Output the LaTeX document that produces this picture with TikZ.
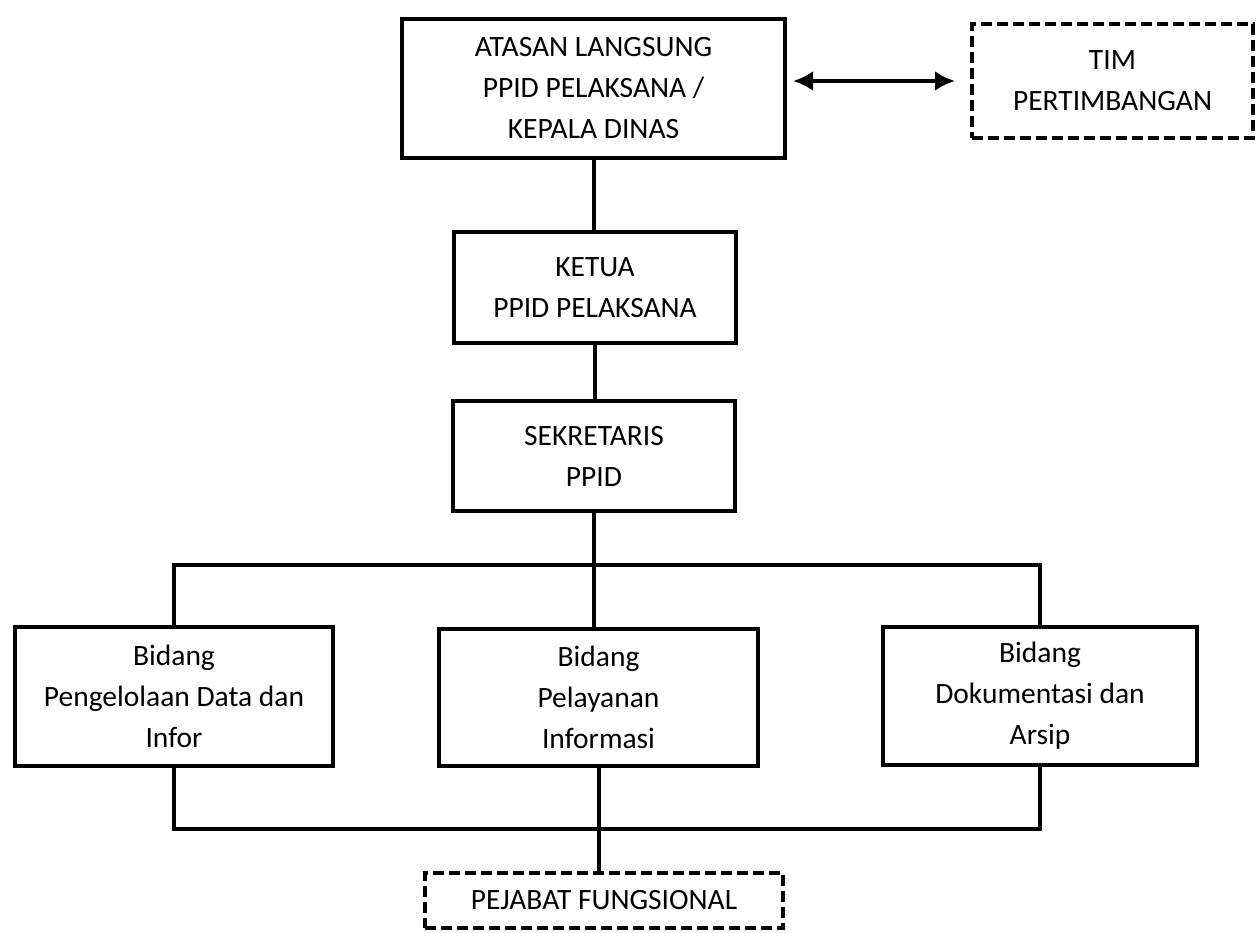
\documentclass[tikz,border=0pt]{standalone}
\usepackage{fontspec}
\setmainfont{Carlito}
\usetikzlibrary{arrows.meta}
\begin{document}
\begin{tikzpicture}[x=1pt,y=-1pt,
  every node/.style={font=\fontsize{29.5}{41}\selectfont, align=center, inner sep=0pt},
  solidbox/.style={draw, line width=4pt, rectangle},
  dashbox/.style={draw, line width=4pt, rectangle, dash pattern=on 11pt off 5pt},
  conn/.style={line width=4pt},
]
\useasboundingbox (0,0) rectangle (1258,932);
\node[solidbox, minimum width=383pt, minimum height=139pt] (top) at (593.5,88.5) {ATASAN LANGSUNG\\PPID PELAKSANA /\\KEPALA DINAS};
\node[dashbox, minimum width=281pt, minimum height=114pt] (tim) at (1112.5,81) {TIM\\PERTIMBANGAN};
\node[solidbox, minimum width=282pt, minimum height=111pt] (ketua) at (595,287.5) {KETUA\\PPID PELAKSANA};
\node[solidbox, minimum width=282pt, minimum height=110pt] (sek) at (594,456) {SEKRETARIS\\PPID};
\node[solidbox, minimum width=318pt, minimum height=139pt] (left) at (174,696.5) {Bidang\\Pengelolaan Data dan\\Infor};
\node[solidbox, minimum width=319pt, minimum height=137pt] (mid) at (598.5,697.5) {Bidang\\Pelayanan\\Informasi};
\node[solidbox, minimum width=314pt, minimum height=138pt] (right) at (1040,696) {Bidang\\Dokumentasi dan\\Arsip};
\node[dashbox, minimum width=358pt, minimum height=55pt] (pej) at (604,900.5) {PEJABAT FUNGSIONAL};
\coordinate (b1) at (0,565);
\coordinate (b2) at (0,829);
\draw[conn] (top.south) -- (top.south |- ketua.north);
\draw[conn] (ketua.south) -- (ketua.south |- sek.north);
\draw[conn] (sek.south) -- (sek.south |- mid.north);
\draw[conn] (left.north) |- (b1 -| right.north) -- (right.north);
\draw[conn] (left.south) |- (b2 -| right.south) -- (right.south);
\draw[conn] (mid.south) -- (mid.south |- pej.north);
\draw[conn, {Latex[length=20pt,width=20pt]}-{Latex[length=20pt,width=20pt]}, shorten <=6pt, shorten >=15pt] (top.east |- tim.west) -- (tim.west);
\end{tikzpicture}
\end{document}
